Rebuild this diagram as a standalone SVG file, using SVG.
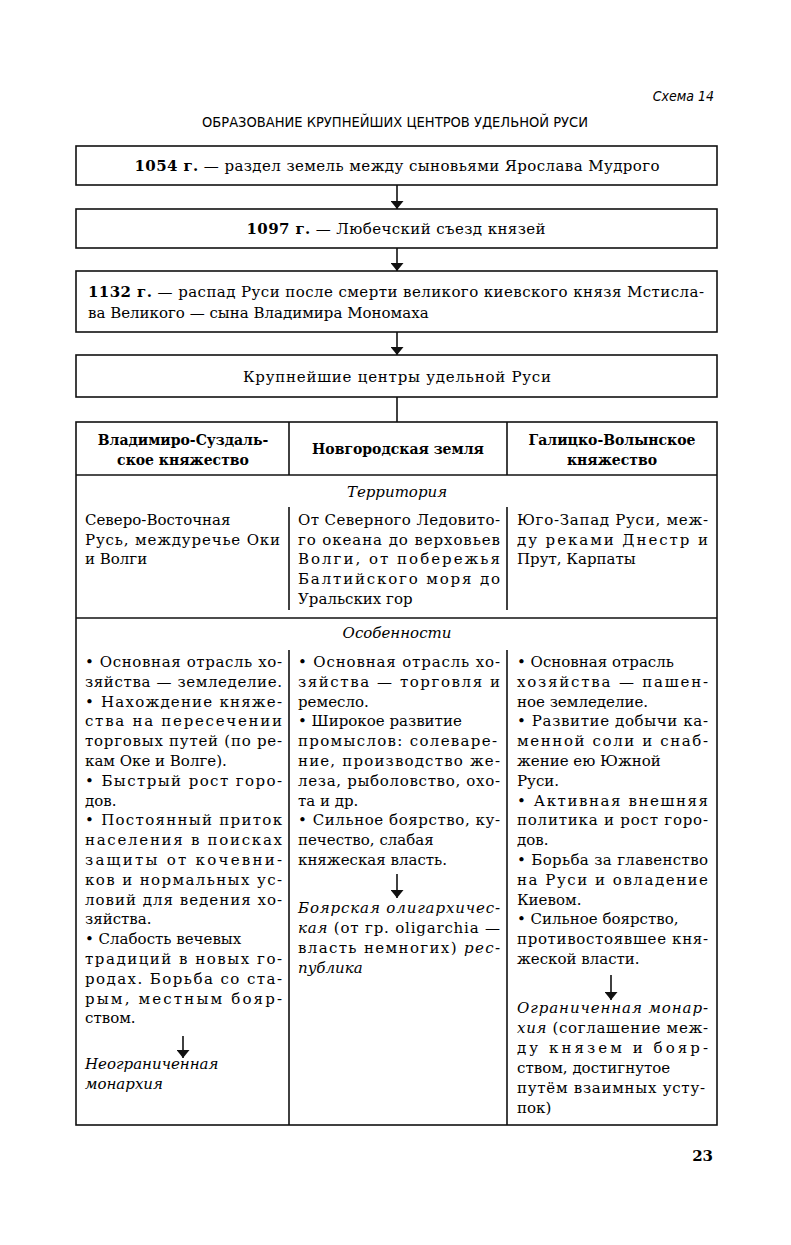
<svg xmlns="http://www.w3.org/2000/svg" width="791" height="1245" viewBox="0 0 791 1245">
<style>
.t{font-family:"DejaVu Serif","Liberation Serif",serif;font-size:15px;fill:#000}
.b{font-weight:bold}
.i{font-style:italic}
.hd{font-family:"DejaVu Serif","Liberation Serif",serif;font-size:14px;font-weight:bold;fill:#000;text-anchor:middle}
.box{fill:#fff;stroke:#111;stroke-width:1.6}
.frame{fill:none;stroke:#111;stroke-width:1.6}
.ln{stroke:#111;stroke-width:1.6;fill:none}
.ttl{font-family:"Liberation Sans Narrow","DejaVu Sans Condensed","Liberation Sans",sans-serif;font-size:14px;fill:#000}
</style>
<defs>
<marker id="ah" viewBox="0 0 8 13" refX="8" refY="6.5" markerWidth="8" markerHeight="13" markerUnits="userSpaceOnUse" orient="auto">
<path d="M0,0 L8,6.5 L0,13 Z" fill="#111"/>
</marker>
</defs>
<rect width="791" height="1245" fill="#fff"/>
<text class="ttl i" x="714" y="101" text-anchor="end" font-size="15">Схема 14</text>
<text class="ttl" x="395" y="127" text-anchor="middle" textLength="386" lengthAdjust="spacingAndGlyphs">ОБРАЗОВАНИЕ КРУПНЕЙШИХ ЦЕНТРОВ УДЕЛЬНОЙ РУСИ</text>

<g id="n1054">
<rect class="box" x="76" y="146" width="641" height="39"/>
<text class="t" x="397" y="171" text-anchor="middle" textLength="525" lengthAdjust="spacing"><tspan class="b">1054 г.</tspan> — раздел земель между сыновьями Ярослава Мудрого</text>
</g>
<g id="n1097">
<rect class="box" x="76" y="209" width="641" height="39"/>
<text class="t" x="396" y="234" text-anchor="middle" textLength="299" lengthAdjust="spacing"><tspan class="b">1097 г.</tspan> — Любечский съезд князей</text>
</g>
<g id="n1132">
<rect class="box" x="76" y="271" width="641" height="61"/>
<text class="t" x="88" y="297" textLength="616" lengthAdjust="spacing"><tspan class="b">1132 г.</tspan> — распад Руси после смерти великого киевского князя Мстисла-</text>
<text class="t" x="88" y="318">ва Великого — сына Владимира Мономаха</text>
</g>
<g id="centers">
<rect class="box" x="76" y="355" width="641" height="42"/>
<text class="t" x="397" y="382" text-anchor="middle" textLength="308" lengthAdjust="spacing">Крупнейшие центры удельной Руси</text>
</g>

<g id="table">
<rect class="frame" x="76" y="422" width="641" height="703"/>
<line class="ln" x1="76" y1="475" x2="717" y2="475"/>
<line class="ln" x1="76" y1="618" x2="717" y2="618"/>
<line class="ln" x1="289" y1="422" x2="289" y2="475"/>
<line class="ln" x1="507" y1="422" x2="507" y2="475"/>
<line class="ln" x1="289" y1="507" x2="289" y2="610"/>
<line class="ln" x1="507" y1="507" x2="507" y2="610"/>
<line class="ln" x1="289" y1="650" x2="289" y2="1125"/>
<line class="ln" x1="507" y1="650" x2="507" y2="1125"/>
</g>

<g id="header">
<text class="hd" x="183" y="445">Владимиро-Суздаль-</text>
<text class="hd" x="183" y="465">ское княжество</text>
<text class="hd" x="398" y="454">Новгородская земля</text>
<text class="hd" x="612" y="445">Галицко-Волынское</text>
<text class="hd" x="612" y="465">княжество</text>
</g>

<g id="territory">
<text class="t i" x="397" y="497" text-anchor="middle">Территория</text>
<text class="t" x="85" y="525">Северо-Восточная</text>
<text class="t" x="85" y="545" textLength="195" lengthAdjust="spacing">Русь, междуречье Оки</text>
<text class="t" x="85" y="564">и Волги</text>
<text class="t" x="298" y="525" textLength="202" lengthAdjust="spacing">От Северного Ледовито-</text>
<text class="t" x="298" y="545" textLength="202" lengthAdjust="spacing">го океана до верховьев</text>
<text class="t" x="298" y="564" textLength="202" lengthAdjust="spacing">Волги, от побережья</text>
<text class="t" x="298" y="584" textLength="202" lengthAdjust="spacing">Балтийского моря до</text>
<text class="t" x="298" y="604">Уральских гор</text>
<text class="t" x="517" y="525" textLength="191" lengthAdjust="spacing">Юго-Запад Руси, меж-</text>
<text class="t" x="517" y="545" textLength="191" lengthAdjust="spacing">ду реками Днестр и</text>
<text class="t" x="517" y="564">Прут, Карпаты</text>
</g>

<g id="features-title">
<text class="t i" x="397" y="638" text-anchor="middle">Особенности</text>
</g>

<g id="col-vladimir">
<text class="t" x="85" y="667" textLength="197" lengthAdjust="spacing">• Основная отрасль хо-</text>
<text class="t" x="85" y="686.8" textLength="197" lengthAdjust="spacing">зяйства — земледелие.</text>
<text class="t" x="85" y="706.6" textLength="197" lengthAdjust="spacing">• Нахождение княже-</text>
<text class="t" x="85" y="726.4" textLength="197" lengthAdjust="spacing">ства на пересечении</text>
<text class="t" x="85" y="746.2" textLength="197" lengthAdjust="spacing">торговых путей (по ре-</text>
<text class="t" x="85" y="766">кам Оке и Волге).</text>
<text class="t" x="85" y="785.8" textLength="197" lengthAdjust="spacing">• Быстрый рост горо-</text>
<text class="t" x="85" y="805.6">дов.</text>
<text class="t" x="85" y="825.4" textLength="197" lengthAdjust="spacing">• Постоянный приток</text>
<text class="t" x="85" y="845.2" textLength="197" lengthAdjust="spacing">населения в поисках</text>
<text class="t" x="85" y="865" textLength="197" lengthAdjust="spacing">защиты от кочевни-</text>
<text class="t" x="85" y="884.8" textLength="197" lengthAdjust="spacing">ков и нормальных ус-</text>
<text class="t" x="85" y="904.6" textLength="197" lengthAdjust="spacing">ловий для ведения хо-</text>
<text class="t" x="85" y="924.4">зяйства.</text>
<text class="t" x="85" y="944.2">• Слабость вечевых</text>
<text class="t" x="85" y="964" textLength="197" lengthAdjust="spacing">традиций в новых го-</text>
<text class="t" x="85" y="983.8" textLength="197" lengthAdjust="spacing">родах. Борьба со ста-</text>
<text class="t" x="85" y="1003.6" textLength="197" lengthAdjust="spacing">рым, местным бояр-</text>
<text class="t" x="85" y="1023.4">ством.</text>
<text class="t i" x="85" y="1069">Неограниченная</text>
<text class="t i" x="85" y="1089">монархия</text>
</g>

<g id="col-novgorod">
<text class="t" x="298" y="667" textLength="202" lengthAdjust="spacing">• Основная отрасль хо-</text>
<text class="t" x="298" y="686.8" textLength="202" lengthAdjust="spacing">зяйства — торговля и</text>
<text class="t" x="298" y="706.6">ремесло.</text>
<text class="t" x="298" y="726.4">• Широкое развитие</text>
<text class="t" x="298" y="746.2" textLength="199" lengthAdjust="spacing">промыслов: солеваре-</text>
<text class="t" x="298" y="766" textLength="202" lengthAdjust="spacing">ние, производство же-</text>
<text class="t" x="298" y="785.8" textLength="202" lengthAdjust="spacing">леза, рыболовство, охо-</text>
<text class="t" x="298" y="805.6">та и др.</text>
<text class="t" x="298" y="825.4" textLength="202" lengthAdjust="spacing">• Сильное боярство, ку-</text>
<text class="t" x="298" y="845.2">печество, слабая</text>
<text class="t" x="298" y="865">княжеская власть.</text>
<text class="t" x="298" y="913" textLength="202" lengthAdjust="spacing"><tspan class="i">Боярская олигархичес-</tspan></text>
<text class="t" x="298" y="933" textLength="202" lengthAdjust="spacing"><tspan class="i">кая</tspan> (от гр. oligarchia —</text>
<text class="t" x="298" y="953" textLength="202" lengthAdjust="spacing">власть немногих) <tspan class="i">рес-</tspan></text>
<text class="t i" x="298" y="973">публика</text>
</g>

<g id="col-galich">
<text class="t" x="517" y="667">• Основная отрасль</text>
<text class="t" x="517" y="686.8" textLength="191" lengthAdjust="spacing">хозяйства — пашен-</text>
<text class="t" x="517" y="706.6">ное земледелие.</text>
<text class="t" x="517" y="726.4" textLength="191" lengthAdjust="spacing">• Развитие добычи ка-</text>
<text class="t" x="517" y="746.2" textLength="191" lengthAdjust="spacing">менной соли и снаб-</text>
<text class="t" x="517" y="766">жение ею Южной</text>
<text class="t" x="517" y="785.8">Руси.</text>
<text class="t" x="517" y="805.6" textLength="191" lengthAdjust="spacing">• Активная внешняя</text>
<text class="t" x="517" y="825.4" textLength="191" lengthAdjust="spacing">политика и рост горо-</text>
<text class="t" x="517" y="845.2">дов.</text>
<text class="t" x="517" y="865" textLength="191" lengthAdjust="spacing">• Борьба за главенство</text>
<text class="t" x="517" y="884.8" textLength="191" lengthAdjust="spacing">на Руси и овладение</text>
<text class="t" x="517" y="904.6">Киевом.</text>
<text class="t" x="517" y="924.4">• Сильное боярство,</text>
<text class="t" x="517" y="944.2" textLength="191" lengthAdjust="spacing">противостоявшее кня-</text>
<text class="t" x="517" y="964">жеской власти.</text>
<text class="t" x="517" y="1013" textLength="191" lengthAdjust="spacing"><tspan class="i">Ограниченная монар-</tspan></text>
<text class="t" x="517" y="1033" textLength="191" lengthAdjust="spacing"><tspan class="i">хия</tspan> (соглашение меж-</text>
<text class="t" x="517" y="1053" textLength="191" lengthAdjust="spacing">ду князем и бояр-</text>
<text class="t" x="517" y="1073">ством, достигнутое</text>
<text class="t" x="517" y="1093" textLength="188" lengthAdjust="spacing">путём взаимных усту-</text>
<text class="t" x="517" y="1113">пок)</text>
</g>

<g id="connectors">
<line class="ln" x1="397" y1="185" x2="397" y2="209" marker-end="url(#ah)"/>
<line class="ln" x1="397" y1="248" x2="397" y2="271" marker-end="url(#ah)"/>
<line class="ln" x1="397" y1="332" x2="397" y2="355" marker-end="url(#ah)"/>
<line class="ln" x1="397" y1="397" x2="397" y2="422"/>
<line class="ln" x1="183" y1="1036" x2="183" y2="1058" marker-end="url(#ah)"/>
<line class="ln" x1="397" y1="874" x2="397" y2="898" marker-end="url(#ah)"/>
<line class="ln" x1="611" y1="975" x2="611" y2="1000" marker-end="url(#ah)"/>
</g>

<text class="t b" x="713" y="1161" text-anchor="end" font-size="16">23</text>
</svg>
